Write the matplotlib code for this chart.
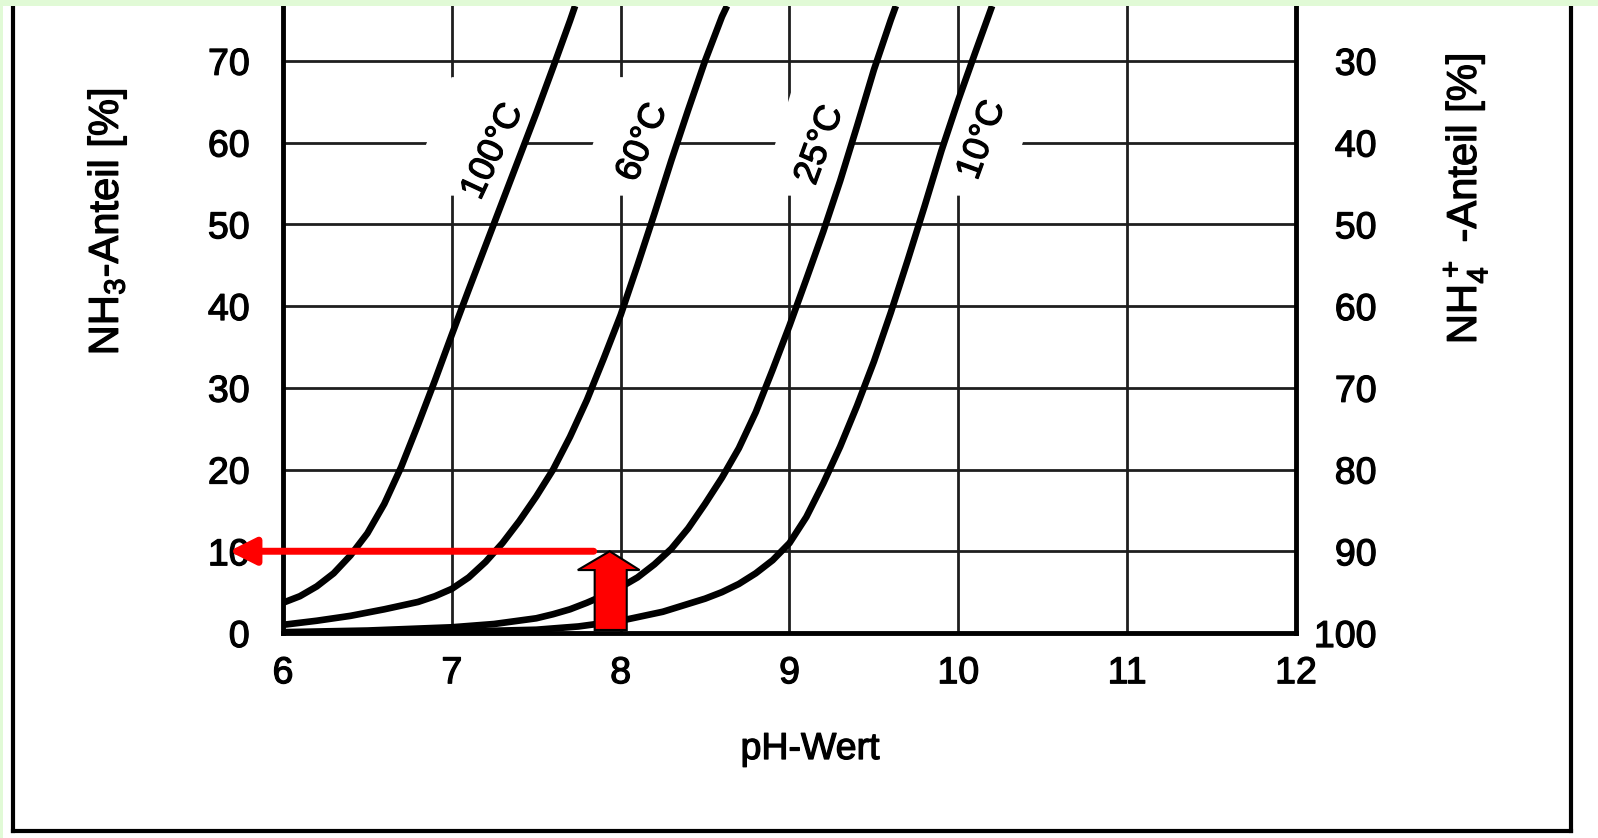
import numpy as np
import matplotlib
matplotlib.use("Agg")
import matplotlib.pyplot as plt
import matplotlib.patheffects as pe
from matplotlib.patches import Polygon, Rectangle
from matplotlib.lines import Line2D

plt.rcParams['font.family'] = ['Liberation Sans', 'DejaVu Sans']
plt.rcParams['mathtext.fontset'] = 'custom'
plt.rcParams['mathtext.rm'] = 'Liberation Sans'

# curves (pH, NH3 share in %)
ph_100 = [6.0, 6.1, 6.2, 6.3, 6.4, 6.5, 6.6, 6.7, 6.8, 6.9, 7.0, 7.1, 7.2, 7.3, 7.4, 7.5, 7.6, 7.7, 7.73]
nh3_100 = [3.7, 4.5, 5.7, 7.3, 9.5, 12.2, 15.8, 20.3, 25.5, 30.9, 36.5, 42.0, 47.4, 52.8, 58.2, 63.6, 69.2, 74.9, 76.7]

ph_60 = [6.0, 6.2, 6.4, 6.6, 6.8, 6.9, 7.0, 7.1, 7.2, 7.3, 7.4, 7.5, 7.6, 7.7, 7.8, 7.9, 8.0,
         8.1, 8.2, 8.3, 8.4, 8.5, 8.6, 8.63]
nh3_60 = [1.0, 1.5, 2.1, 2.9, 3.8, 4.5, 5.4, 6.8, 8.7, 11.0, 13.7, 16.7, 20.0, 24.0, 28.5, 33.6, 38.9,
          45, 51.3, 57.8, 64, 70, 75.4, 76.7]

ph_25 = [6.0, 6.5, 7.0, 7.25, 7.5, 7.6, 7.7, 7.8, 7.9, 8.0, 8.1, 8.2, 8.3, 8.4, 8.5, 8.6, 8.7,
         8.8, 8.9, 9.0, 9.1, 9.2, 9.3, 9.4, 9.5, 9.6, 9.63]
nh3_25 = [0.1, 0.3, 0.7, 1.1, 1.8, 2.3, 2.9, 3.7, 4.6, 5.6, 6.8, 8.4, 10.3, 12.8, 15.8, 19.0, 22.6,
          27.0, 32.2, 37.6, 43.3, 49.1, 55.3, 62, 68.9, 75, 76.7]

ph_10 = [6.0, 6.5, 7.0, 7.5, 7.75, 8.0, 8.25, 8.5, 8.6, 8.7, 8.8, 8.9, 9.0, 9.1, 9.2, 9.3, 9.4,
         9.5, 9.6, 9.7, 9.8, 9.9, 10.0, 10.1, 10.2]
nh3_10 = [0.0, 0.05, 0.15, 0.4, 0.8, 1.5, 2.6, 4.2, 5.0, 6.0, 7.3, 8.9, 11.0, 14.2, 18.3, 22.8, 27.8,
          33.2, 39.2, 45.6, 52.2, 59, 65.2, 71, 76.7]

curve_names = ["100°C", "60°C", "25°C", "10°C"]
x_ticks = [6, 7, 8, 9, 10, 11, 12]
y_ticks = [0, 10, 20, 30, 40, 50, 60, 70]
y_ticks_right = [30, 40, 50, 60, 70, 80, 90, 100]

W, H = 1598, 838
fig = plt.figure(figsize=(W / 100, H / 100), dpi=100)
fig.patch.set_facecolor("white")

# slight stroke so the type looks as heavy as the scan
heavy = [pe.withStroke(linewidth=0.9, foreground="black")]

ax = fig.add_axes([283 / W, (H - 633) / H, (1296 - 283) / W, (633 - 6) / H])
ax.set_xlim(6, 12)
ax.set_ylim(0, 76.7)
ax.set_facecolor("none")

ax.set_xticks(x_ticks)
ax.set_yticks(y_ticks)
ax.tick_params(axis="both", length=0, labelsize=27)
ax.tick_params(axis="x", pad=16)
ax.tick_params(axis="y", pad=24)
ax.grid(True, color="#1e1e1e", lw=2.0)
ax.set_axisbelow(True)
for s in ["left", "bottom", "right"]:
    ax.spines[s].set_linewidth(3.5)
ax.spines["top"].set_visible(False)
for lbl in ax.get_xticklabels() + ax.get_yticklabels():
    lbl.set_path_effects(heavy)

ax2 = ax.twinx()
ax2.set_ylim(100, 100 - 76.7)
ax2.set_yticks(y_ticks_right)
ax2.tick_params(axis="y", length=0, labelsize=27, pad=58)
for lbl in ax2.get_yticklabels():
    lbl.set_ha("right")
    lbl.set_path_effects(heavy)
for s in ax2.spines.values():
    s.set_visible(False)

series = [(ph_100, nh3_100), (ph_60, nh3_60), (ph_25, nh3_25), (ph_10, nh3_10)]

# white patches that break the grid behind the curve labels
offsets = [-0.58, -0.5, -0.45, 0.46]
for (px, py), off in zip(series, offsets):
    xa = np.interp(68, py, px)
    xb = np.interp(53.5, py, px)
    poly = Polygon([(xa + off, 68), (xa, 68), (xb, 53.5), (xb + off, 53.5)],
                   closed=True, facecolor="white", edgecolor="none", zorder=1.5)
    ax.add_patch(poly)

for px, py in series:
    ax.plot(px, py, color="black", lw=4.8, solid_capstyle="butt",
            solid_joinstyle="round", zorder=3)

label_pos = [(7.243, 58.9, 65), (8.13, 60.0, 67), (9.18, 59.7, 70), (10.14, 60.3, 70)]
for name, (lx, ly, rot) in zip(curve_names, label_pos):
    ax.text(lx, ly, name, fontsize=26, rotation=rot, ha="center", va="center",
            rotation_mode="anchor", zorder=4, path_effects=heavy)

# red markers
ax.annotate("", xy=(5.68, 10), xytext=(7.84, 10),
            arrowprops=dict(arrowstyle="-|>,head_length=0.8,head_width=0.4",
                            color="#ff0000", lw=5, mutation_scale=20,
                            shrinkA=0, shrinkB=0),
            annotation_clip=False, zorder=6)
block = Polygon([(7.846, 0.37), (8.036, 0.37), (8.036, 7.7), (8.112, 7.7),
                 (7.935, 10.0), (7.746, 7.7), (7.846, 7.7)], closed=True,
                facecolor="#ff0000", edgecolor="black", lw=1.5, clip_on=False, zorder=7)
ax.add_patch(block)

# axis titles
fig.text(810 / W, (H - 749) / H, "pH-Wert", fontsize=27, ha="center", va="center",
         path_effects=heavy)
fig.text(107 / W, (H - 222) / H, r"NH$_3$-Anteil [%]", fontsize=30, rotation=90,
         ha="center", va="center", path_effects=heavy)
fig.text(1465 / W, (H - 199) / H, r"NH$_4^+$ -Anteil [%]", fontsize=30, rotation=90,
         ha="center", va="center", path_effects=heavy)

# scan frame and green border
for xs, ys in [([13, 13], [0, 831]), ([1571, 1571], [0, 831]), ([13, 1571], [831, 831])]:
    fig.add_artist(Line2D([x / W for x in xs], [(H - y) / H for y in ys],
                          color="black", lw=3, transform=fig.transFigure))
fig.add_artist(Rectangle((0, (H - 6) / H), 1, 6 / H, transform=fig.transFigure,
                         facecolor="#e1fad6", edgecolor="none", zorder=10))
fig.add_artist(Rectangle((0, 0), 3 / W, 1, transform=fig.transFigure,
                         facecolor="#e1fad6", edgecolor="none", zorder=10))

fig.savefig("out.png", dpi=100)
